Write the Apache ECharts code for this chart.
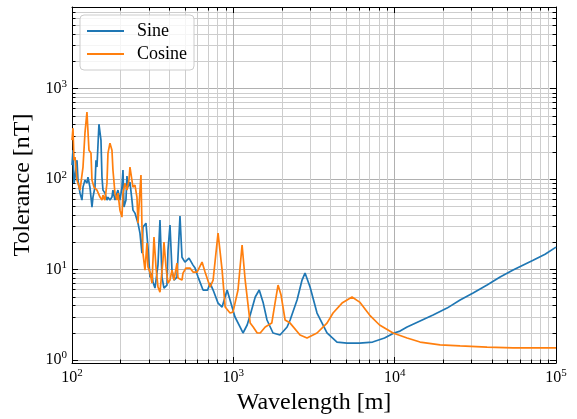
<!DOCTYPE html>
<html><head><meta charset="utf-8">
<script src="https://cdn.jsdelivr.net/npm/echarts@6/dist/echarts.min.js"></script>
<style>html,body{margin:0;padding:0;background:#fff}#c{width:577px;height:419px}</style>
</head><body><div id="c"></div>
<script>
const seriesNames = ['Sine', 'Cosine'];
const sineWavelength = [100,101.4,102.9,104.4,107.4,108.9,112.1,115.3,117.0,120.3,123.8,125.6,129.2,133.0,134.9,138.8,140.8,142.8,146.9,151.2,153.4,155.6,160.1,164.7,167.1,171.9,176.9,179.4,184.6,190.0,192.7,198.3,204.0,207.0,209.9,216.0,219.1,222.3,228.7,235.3,238.7,245.6,252.7,256.4,263.8,271.4,275.3,287.4,295.7,304.3,313.1,317.6,326.8,341.1,351.0,361.2,371.6,387.9,393.5,404.9,416.6,428.7,447.5,467.0,480.6,501.6,531.2,562.6,578.9,604.6,649,693,717.6,749.4,804,852,915,954,1024,1100,1148,1218,1272,1367,1447,1533,1617,1762,1947,2154,2249,2483,2666,2782,2989,3302,3806,4390,5065,6067,7300,8650,9916,10800,11940,14370,17300,21130,25440,30630,37390,45030,54200,72110,85580,100000];
const sineTolerance = [143,209,90.3,105,162,97.5,70.0,58.6,81.6,97.5,90.3,105,81.6,49.1,63.3,81.6,162,136,405,270,105,75.6,70.0,58.6,63.3,58.6,63.3,75.6,58.6,70.0,75.6,58.6,81.6,126,49.1,58.6,108,81.6,92.6,58.6,45.4,42.1,42.1,32.6,25.3,15.2,29.5,32.6,17.7,8.26,9.15,7.28,6.25,11.2,35.2,8.26,6.25,6.74,16.4,31.0,9.87,7.66,8.26,39.0,13.7,12.1,13.4,11.2,10.4,8.26,5.94,5.94,7.09,5.94,4.26,3.85,5.94,4.60,2.99,2.32,1.99,2.44,3.14,4.97,5.94,4.26,2.77,1.99,1.89,2.32,2.77,4.60,7.66,9.15,6.41,3.31,1.99,1.58,1.54,1.54,1.58,1.75,1.99,2.09,2.32,2.70,3.14,3.75,4.60,5.50,6.74,8.26,9.87,12.7,14.8,17.7];
const cosineWavelength = [100,101.4,102.9,104.4,107.4,112.1,117.0,120.3,123.8,127.4,131.1,133.0,136.8,142.8,149.1,153.4,155.6,160.1,164.7,167.1,171.9,176.9,179.4,184.6,190.0,192.7,198.3,204.0,207.0,213.0,219.1,225.5,228.7,235.3,238.7,245.6,252.7,256.4,263.8,267.6,271.4,275.3,283.3,291.5,295.7,304.3,313.1,322.2,331.5,341.1,351.0,366.4,371.6,382.4,393.5,404.9,416.6,428.7,447.5,453.9,480.6,487.5,508.8,538.8,562.6,595.9,639.8,668,717.6,749.4,804,852,890,954,995,1069,1133,1184,1272,1328,1406,1468,1576,1731,1813,1893,1976,2093,2249,2591,2863,3302,3806,4150,4718,5440,6067,6993,8060,9774,11940,14370,19120,25440,37390,54200,100000];
const cosineTolerance = [270,366,162,175,97.5,75.6,136,322,550,209,194,97.5,81.6,75.6,63.3,58.6,66.6,58.6,90.3,194,250,209,126,70.0,58.6,70.0,45.4,38.0,70.0,90.3,75.6,97.5,136,143,81.6,85.9,63.3,32.6,31.0,111,29.5,15.2,9.87,19.6,10.7,9.38,7.09,22.9,10.7,6.41,5.64,12.7,20.1,10.7,7.09,7.66,9.87,7.66,11.8,8.06,7.66,9.15,10.4,10.4,9.38,9.38,12.1,9.38,6.41,7.66,25.3,9.87,3.85,3.31,3.39,5.94,18.7,7.66,2.56,2.32,1.99,1.99,2.32,2.56,4.26,6.74,5.23,2.77,2.56,1.89,1.75,1.99,2.56,3.31,4.26,4.97,4.37,3.14,2.44,1.99,1.75,1.58,1.47,1.43,1.39,1.36,1.36];
const xMajorTicks = [100, 1000, 10000, 100000];
const yMajorTicks = [1, 10, 100, 1000];
const xDecades = [100, 1000, 10000];
const yDecades = [1, 10, 100, 1000];

function minorTicks(decades) {
  const out = [];
  decades.forEach(d => { for (let k = 2; k <= 9; k++) out.push(+(k * d).toPrecision(6)); });
  return out;
}
const xMinorTicks = minorTicks(xDecades);
const yMinorTicks = minorTicks(yDecades);

const FONT = "'Liberation Serif', 'Times New Roman', serif";
const rich = {
  b: { fontFamily: FONT, fontSize: 16, color: '#000' },
  s: { fontFamily: FONT, fontSize: 11, color: '#000', padding: [0, 0, 9, 0] }
};
function supLabel(v) { return '{b|10}{s|' + Math.round(Math.log10(v)) + '}'; }

const XR = { min: 100, max: 100000 };
const YR = { min: 0.927, max: 8000 };
const MAJOR_GRID = '#b0b0b0', MINOR_GRID = '#cdcdcd';

function makeAxis(range, position, ticks, major, primary, labelMargin, name, nameGap) {
  return {
    type: 'log', logBase: 10, min: range.min, max: range.max, position: position,
    axisLine: { show: major, onZero: false, lineStyle: { color: '#000', width: 1 } },
    axisTick: { show: true, inside: true, length: major ? 6 : 3.5, customValues: ticks, lineStyle: { color: '#000', width: 1 } },
    axisLabel: primary ? { show: true, customValues: ticks, formatter: supLabel, rich: rich, margin: labelMargin } : { show: false },
    splitLine: { show: primary || (!major && (position === 'bottom' || position === 'left')), lineStyle: { color: major ? MAJOR_GRID : MINOR_GRID, width: 1 } },
    minorTick: { show: false }, minorSplitLine: { show: false },
    name: primary ? name : '', nameLocation: 'middle', nameGap: nameGap,
    nameTextStyle: { fontFamily: FONT, fontSize: 24, color: '#000' }
  };
}

const chart = echarts.init(document.getElementById('c'), null, { renderer: 'canvas' });
chart.setOption({
  animation: false,
  backgroundColor: '#fff',
  grid: { left: 72, right: 21, top: 7, bottom: 56, outerBoundsMode: 'none', containLabel: false },
  xAxis: [
    makeAxis(XR, 'bottom', xMajorTicks, true, true, 5, 'Wavelength [m]', 26),
    makeAxis(XR, 'bottom', xMinorTicks, false, false),
    makeAxis(XR, 'top', xMajorTicks, true, false),
    makeAxis(XR, 'top', xMinorTicks, false, false)
  ],
  yAxis: [
    makeAxis(YR, 'left', yMajorTicks, true, true, 5, 'Tolerance [nT]', 34),
    makeAxis(YR, 'left', yMinorTicks, false, false),
    makeAxis(YR, 'right', yMajorTicks, true, false),
    makeAxis(YR, 'right', yMinorTicks, false, false)
  ],
  legend: {
    data: seriesNames, left: 80, top: 15, orient: 'vertical', icon: 'rect',
    itemWidth: 37, itemHeight: 2, itemGap: 5, padding: [7, 7, 7, 7],
    backgroundColor: 'rgba(255,255,255,0.8)', borderColor: '#cccccc', borderWidth: 1, borderRadius: 4,
    textStyle: { fontFamily: FONT, fontSize: 18, color: '#000', lineHeight: 14, padding: [0, 0, 0, 8] }
  },
  series: [
    { name: seriesNames[0], type: 'line', xAxisIndex: 0, yAxisIndex: 0, symbol: 'none', showSymbol: false,
      data: sineWavelength.map((w, i) => [w, sineTolerance[i]]),
      lineStyle: { color: '#1f77b4', width: 1.7 }, itemStyle: { color: '#1f77b4' }, z: 3 },
    { name: seriesNames[1], type: 'line', xAxisIndex: 0, yAxisIndex: 0, symbol: 'none', showSymbol: false,
      data: cosineWavelength.map((w, i) => [w, cosineTolerance[i]]),
      lineStyle: { color: '#ff7f0e', width: 1.7 }, itemStyle: { color: '#ff7f0e' }, z: 3 }
  ]
});
</script></body></html>
